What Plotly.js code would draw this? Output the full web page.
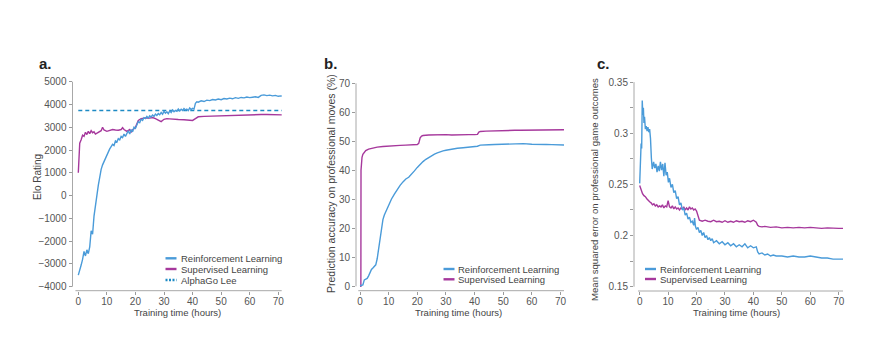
<!DOCTYPE html>
<html>
<head>
<meta charset="utf-8">
<script src="https://cdn.plot.ly/plotly-3.0.1.min.js"></script>
<style>html,body{margin:0;padding:0;background:#fff}#chart{width:871px;height:345px}</style>
</head>
<body>
<div id="chart"></div>
<script>
// ---------- Panel a: Elo rating ----------
const eloRlHours = [0,0.5,1,1.5,2,2.5,3,3.5,4,4.5,5,5.5,6,6.5,7,7.5,8,8.5,9,9.5,10,10.5,11,11.5,12,12.5,13,13.5,14,14.5,15,15.5,16,16.5,17,17.5,18,18.5,19,19.5,20,20.5,21,21.5,22,22.5,23,23.5,24,24.5,25,25.5,26,26.5,27,27.5,28,28.5,29,29.5,30,30.5,31,31.5,32,32.5,33,33.5,34,34.5,35,35.5,36,36.5,37,37.5,38,38.5,39,39.5,40,40.5,41,41.5,42,43,44,45,46,47,48,49,50,51,52,53,54,55,56,57,58,59,60,61,62,63,64,65,66,67,68,69,70,71,72];
const eloRl = [-3490,-3200,-3050,-2800,-2450,-2650,-2380,-2550,-2250,-1550,-1700,-900,-350,0,450,850,1150,1350,1500,1650,1780,1950,2050,2150,2250,2200,2400,2350,2500,2450,2600,2550,2700,2600,2750,2850,2700,2900,2800,3000,2950,3150,3250,3200,3350,3300,3420,3380,3480,3400,3500,3450,3540,3480,3580,3520,3600,3550,3650,3570,3700,3620,3680,3600,3720,3650,3760,3680,3740,3700,3800,3720,3790,3740,3820,3760,3800,3730,3850,3780,3830,3800,4050,4120,4100,4160,4130,4190,4170,4220,4200,4240,4210,4260,4240,4280,4250,4300,4270,4310,4290,4330,4300,4320,4340,4310,4400,4420,4390,4410,4380,4400,4360,4380,4360];
const eloSlHours = [0,0.2,0.5,1,1.5,2,2.5,3,3.5,4,4.5,5,5.5,6,7,8,8.5,9,10,11,12,13,14,15,15.5,16,17,18,18.5,19,20,21,22,23,24,25,26,27,28,29,30,31,32,33,35,37,39,40,41,42,44,46,48,50,52,54,56,58,60,62,64,66,68,70,72];
const eloSl = [1000,2000,2300,2450,2650,2600,2780,2680,2820,2720,2850,2760,2800,2700,2780,2850,3000,2880,2820,2860,2900,2880,2870,2900,2980,2900,2820,2900,2780,2880,3000,3300,3380,3400,3420,3400,3430,3380,3300,3250,3350,3380,3370,3350,3340,3330,3310,3300,3380,3460,3480,3490,3500,3520,3530,3540,3540,3550,3540,3550,3560,3560,3550,3540,3540];
const alphaGoLeeElo = 3739;

// ---------- Panel b: prediction accuracy (%) ----------
const accRlHours = [0,0.5,1,1.5,2,2.5,3,3.5,4,4.5,5,5.5,6,6.5,7,7.5,8,8.5,9,10,11,12,13,14,15,16,17,18,19,20,21,22,23,24,25,26,27,28,29,30,32,34,36,38,40,41,42,43,45,47,50,52,55,57,60,62,65,67,70,72];
const accRl = [0.2,0.3,0.5,2.2,2.5,2.7,3.6,4.8,5.8,6.3,6.9,7.4,9.5,13,17.5,21,23,24.6,25.8,28,30.1,31.8,33.4,34.8,36,37,37.6,38.6,39.8,41,42.1,43,43.8,44.5,45.1,45.6,46,46.4,46.7,46.9,47.3,47.6,47.8,48,48.2,48.3,48.7,48.8,48.8,48.9,49,49.05,49.1,49.2,49,49.05,48.9,48.85,48.7,48.7];
const accSlHours = [0,0.3,0.35,0.5,0.7,1,1.5,2,3,4,5,6,8,10,12,14,16,18,20,20.5,21,21.5,22,24,26,28,30,32,34,36,38,40,41,41.5,42,44,46,48,50,52,54,56,58,60,62,64,66,68,70,72];
const accSl = [0,0,40,43,44.5,45.5,46.3,46.8,47.3,47.6,47.8,48,48.2,48.4,48.5,48.6,48.7,48.8,48.9,49.3,51.2,51.8,52,52.2,52.3,52.2,52.3,52.2,52.3,52.2,52.3,52.3,52.4,53.2,53.4,53.5,53.6,53.6,53.7,53.7,53.8,53.8,53.8,53.9,53.9,54,53.9,54,53.9,54];

// ---------- Panel c: mean squared error ----------
const mseRlHours = [0,0.3,0.5,0.7,0.9,1.1,1.3,1.5,1.7,2,2.3,2.6,2.9,3.2,3.5,3.8,4.1,4.4,4.9,5.3,5.7,6.1,6.5,6.9,7.3,7.7,8.1,8.5,8.9,9.3,9.7,10.1,10.5,11,11.5,12,12.5,13,13.5,14,14.5,15,15.5,16,16.5,17,17.5,18,18.5,19,19.3,19.6,20,20.5,21,21.5,22,22.5,23,23.5,24,24.5,25,25.5,26,27,28,29,30,31,32,33,34,35,36,37,38,39,40,41,41.5,42,43,44,45,46,47,48,50,52,54,56,58,60,62,64,66,68,70,72];
const mseRl = [0.251,0.275,0.290,0.285,0.332,0.318,0.325,0.310,0.316,0.304,0.307,0.302,0.306,0.301,0.304,0.295,0.276,0.265,0.272,0.266,0.270,0.262,0.268,0.263,0.272,0.264,0.270,0.258,0.271,0.259,0.262,0.252,0.256,0.247,0.250,0.242,0.244,0.236,0.238,0.230,0.232,0.225,0.227,0.220,0.222,0.216,0.218,0.213,0.214,0.210,0.217,0.209,0.206,0.208,0.203,0.205,0.200,0.203,0.198,0.200,0.196,0.198,0.195,0.197,0.193,0.195,0.192,0.194,0.191,0.193,0.190,0.192,0.189,0.191,0.189,0.192,0.188,0.190,0.188,0.189,0.184,0.182,0.183,0.181,0.182,0.180,0.181,0.180,0.180,0.179,0.180,0.179,0.179,0.180,0.179,0.178,0.178,0.177,0.177,0.177];
const mseSlHours = [0,0.5,1,1.5,2,2.5,3,3.5,4,4.5,5,5.5,6,6.5,7,7.5,8,8.5,9,9.5,10,10.5,11,11.5,12,12.5,13,13.5,14,14.5,15,15.5,16,16.5,17,17.5,18,18.5,19,19.5,20,20.5,21,22,23,24,25,26,27,28,29,30,31,32,33,34,35,36,37,38,39,40,41,41.5,42,43,44,46,48,50,52,54,56,58,60,62,64,66,68,70,72];
const mseSl = [0.249,0.244,0.241,0.239,0.238,0.236,0.234,0.233,0.232,0.230,0.231,0.229,0.230,0.228,0.229,0.228,0.230,0.227,0.229,0.228,0.234,0.228,0.227,0.229,0.226,0.228,0.226,0.227,0.225,0.227,0.226,0.228,0.225,0.227,0.225,0.228,0.226,0.227,0.225,0.226,0.224,0.219,0.215,0.214,0.215,0.214,0.2135,0.215,0.2135,0.214,0.213,0.2145,0.213,0.214,0.213,0.2145,0.2135,0.214,0.213,0.2145,0.2135,0.215,0.213,0.210,0.209,0.2085,0.209,0.208,0.2085,0.2075,0.208,0.2075,0.208,0.2075,0.208,0.2075,0.207,0.2075,0.207,0.207,0.207];

// ---------- Labels ----------
const panelLabels = ['a.', 'b.', 'c.'];
const xTitle = 'Training time (hours)';
const yTitles = ['Elo Rating', 'Prediction accuracy on professional moves (%)', 'Mean squared error on professional game outcomes'];
const seriesNames = ['Reinforcement Learning', 'Supervised Learning', 'AlphaGo Lee'];

// ---------- Styling ----------
const W = 871, H = 345;
const fx = p => p / W;
const fy = p => 1 - p / H;
const FONT = 'Liberation Sans, Arial, Helvetica, sans-serif';
const C_RL = '#4a9bd9', C_SL = '#a6389c', C_AG = '#1d8ac4';
const LW = 1.4;

function line(x, y, color, xa, ya, name, dash) {
  return {x: x, y: y, type: 'scatter', mode: 'lines', name: name,
    line: {color: color, width: LW, dash: dash || 'solid'},
    xaxis: xa, yaxis: ya, showlegend: false, hoverinfo: 'skip'};
}

const data = [
  line([0, 72], [alphaGoLeeElo, alphaGoLeeElo], C_AG, 'x', 'y', seriesNames[2], '4px,3px'),
  line(eloSlHours, eloSl, C_SL, 'x', 'y', seriesNames[1]),
  line(eloRlHours, eloRl, C_RL, 'x', 'y', seriesNames[0]),
  line(accSlHours, accSl, C_SL, 'x2', 'y2', seriesNames[1]),
  line(accRlHours, accRl, C_RL, 'x2', 'y2', seriesNames[0]),
  line(mseSlHours, mseSl, C_SL, 'x3', 'y3', seriesNames[1]),
  line(mseRlHours, mseRl, C_RL, 'x3', 'y3', seriesNames[0])
];

const axBase = {
  showgrid: false, zeroline: false, showline: false,
  ticks: 'outside', ticklen: 3, tickwidth: 1, tickcolor: '#9a9a9a',
  tickfont: {family: FONT, size: 10, color: '#555'}, fixedrange: true
};

// panel geometry (pixels)
const panels = [
  {xl: 72.5, xr: 281.7, yt: 81.7, yb: 290.7, xr0: -2.03, xr1: 71.2, yr0: -4176, yr1: 5001, ytmin: -4000, ytmax: 5000, dtick: 1000, xlStart: -1},
  {xl: 356, xr: 564, yt: 83.3, yb: 290.7, xr0: -1.4, xr1: 71.23, yr0: -1.52, yr1: 70.01, ytmin: 0, ytmax: 70, dtick: 10, xlStart: -0.6},
  {xl: 634, xr: 843, yt: 82, yb: 291, xr0: -2.0, xr1: 71.5, yr0: 0.1458, yr1: 0.3501, ytmin: 0.15, ytmax: 0.35, dtick: 0.05, xlStart: -0.6}
];

const layout = {
  width: W, height: H, margin: {l: 0, r: 0, t: 0, b: 0},
  paper_bgcolor: '#fff', plot_bgcolor: '#fff',
  font: {family: FONT, color: '#444'},
  showlegend: false, annotations: [], shapes: []
};

const AXC = '#a8a8a8';
panels.forEach((p, i) => {
  const sx = i === 0 ? '' : String(i + 1);
  layout['xaxis' + sx] = Object.assign({}, axBase, {
    domain: [fx(p.xl), fx(p.xr)], range: [p.xr0, p.xr1], anchor: 'y' + sx,
    tickmode: 'linear', tick0: 0, dtick: 10, ticklabelstandoff: -2
  });
  const ya = Object.assign({}, axBase, {
    domain: [fy(p.yb), fy(p.yt)], range: [p.yr0, p.yr1], anchor: 'x' + sx,
    tickmode: 'linear', tick0: p.ytmin, dtick: p.dtick
  });
  if (i === 2) ya.minor = {ticks: 'outside', ticklen: 3, tickcolor: '#9a9a9a', dtick: 0.025, tick0: 0.15};
  layout['yaxis' + sx] = ya;
  // detached axis lines
  const yFrac0 = (p.ytmin - p.yr0) / (p.yr1 - p.yr0);
  const yFrac1 = (p.ytmax - p.yr0) / (p.yr1 - p.yr0);
  const xFrac0 = (p.xlStart - p.xr0) / (p.xr1 - p.xr0);
  layout.shapes.push({type: 'line', xref: 'x' + sx + ' domain', yref: 'y' + sx + ' domain',
    x0: 0, x1: 0, y0: yFrac0, y1: yFrac1, line: {color: AXC, width: 1}});
  layout.shapes.push({type: 'line', xref: 'x' + sx + ' domain', yref: 'y' + sx + ' domain',
    x0: xFrac0, x1: 1, y0: 0, y1: 0, line: {color: AXC, width: 1}});
});

function ann(text, x, y, opts) {
  layout.annotations.push(Object.assign({
    text: text, xref: 'paper', yref: 'paper', x: fx(x), y: fy(y),
    showarrow: false, xanchor: 'center', yanchor: 'middle', borderpad: 0,
    font: {family: FONT, size: 10, color: '#333'}
  }, opts || {}));
}

// panel letters
[[38, 63], [322.5, 63], [596, 63]].forEach((pos, i) => {
  ann('<b>' + panelLabels[i] + '</b>', pos[0], pos[1], {xanchor: 'left', font: {family: FONT, size: 15, color: '#222'}});
});
// x titles
[177, 458, 736].forEach(cx => ann(xTitle, cx, 312.5, {font: {family: FONT, size: 9.5, color: '#444'}}));
// y titles
const yTitleSizes = [10, 10.5, 9.6];
[[37, 177], [331, 184], [594, 190]].forEach((pos, i) => {
  ann(yTitles[i], pos[0], pos[1], {textangle: -90, font: {family: FONT, size: yTitleSizes[i], color: '#444'}});
});

// legends
function legendItem(x0, y, color, text, dash) {
  layout.shapes.push({type: 'line', xref: 'paper', yref: 'paper',
    x0: fx(x0), x1: fx(x0 + 11), y0: fy(y), y1: fy(y),
    line: {color: color, width: 2.4, dash: dash || 'solid'}});
  ann(text, x0 + 14, y, {xanchor: 'left', font: {family: FONT, size: 9.5, color: '#444'}});
}
legendItem(165.5, 258.3, C_RL, seriesNames[0]);
legendItem(165.5, 269.0, C_SL, seriesNames[1]);
legendItem(165.5, 280.0, C_AG, seriesNames[2], '2px,1.5px');
legendItem(443.5, 269.0, C_RL, seriesNames[0]);
legendItem(443.5, 279.3, C_SL, seriesNames[1]);
legendItem(645, 269.0, C_RL, seriesNames[0]);
legendItem(645, 279.0, C_SL, seriesNames[1]);

Plotly.newPlot('chart', data, layout, {staticPlot: true, displayModeBar: false});
</script>
</body>
</html>
